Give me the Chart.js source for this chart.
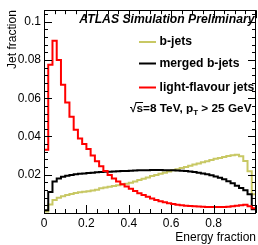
<!DOCTYPE html>
<html>
<head>
<meta charset="utf-8">
<script src="https://cdn.jsdelivr.net/npm/chart.js@4/dist/chart.umd.min.js"></script>
<style>
html,body{margin:0;padding:0;background:#fff;}
canvas{display:block;}
</style>
</head>
<body>
<canvas id="c" width="258" height="245"></canvas>
<script>
// Bin edges (low edges + final upper edge)
const binEdges = [0,0.02,0.04,0.06,0.08,0.10,0.12,0.14,0.16,0.18,0.20,0.22,0.24,0.26,0.28,0.30,0.32,0.34,0.36,0.38,0.40,0.42,0.44,0.46,0.48,0.50,0.52,0.54,0.56,0.58,0.60,0.62,0.64,0.66,0.68,0.70,0.72,0.74,0.76,0.78,0.80,0.82,0.84,0.86,0.88,0.90,0.92,0.94,0.96,0.98,1.00];

const seriesNames = ["b-jets", "merged b-jets", "light-flavour jets"];

const bJets = [0.0008,0.0045,0.0068,0.0080,0.0088,0.0094,0.0099,0.0104,0.0108,0.0111,
  0.0114,0.0118,0.0122,0.0129,0.0133,0.0137,0.0141,0.0145,0.0149,0.0153,
  0.0158,0.0165,0.0172,0.0179,0.0186,0.0193,0.0199,0.0205,0.0211,0.0217,
  0.0223,0.0229,0.0235,0.0241,0.0247,0.0253,0.0259,0.0265,0.0271,0.0277,
  0.0283,0.0288,0.0293,0.0298,0.0302,0.0304,0.0296,0.0272,0.0218,0.0098];

const mergedBJets = [0.0015,0.0110,0.0165,0.0180,0.0190,0.0195,0.0199,0.0202,0.0205,0.0207,
  0.0209,0.0211,0.0213,0.0214,0.0215,0.0216,0.0217,0.0218,0.0219,0.0220,
  0.0221,0.0222,0.0223,0.0224,0.0224,0.0225,0.0225,0.0225,0.0224,0.0224,
  0.0223,0.0222,0.0221,0.0219,0.0217,0.0214,0.0211,0.0207,0.0202,0.0197,
  0.0191,0.0184,0.0176,0.0166,0.0155,0.0143,0.0131,0.0119,0.0098,0.0020];

const lightJets = [0.0330,0.0775,0.0900,0.0800,0.0670,0.0577,0.0503,0.0435,0.0390,0.0360,
  0.0335,0.0300,0.0270,0.0245,0.0220,0.0198,0.0180,0.0165,0.0150,0.0138,
  0.0127,0.0115,0.0103,0.0094,0.0085,0.0076,0.0068,0.0062,0.0056,0.0051,
  0.0047,0.0043,0.0040,0.0038,0.0036,0.0035,0.0034,0.0033,0.0032,0.0031,
  0.0031,0.0031,0.0032,0.0033,0.0035,0.0038,0.0041,0.0043,0.0035,0.0025];

const xTickValues = [0, 0.2, 0.4, 0.6, 0.8];
const yTickValues = [0.02, 0.04, 0.06, 0.08, 0.1];

const seriesColors = ["#c8c864", "#000000", "#ff0000"];

function toSteps(vals){
  const pts = vals.map((v,i)=>({x:binEdges[i], y:v}));
  pts.push({x:binEdges[binEdges.length-1], y:vals[vals.length-1]});
  return pts;
}

const FONT = '"Liberation Sans", Arial, sans-serif';

const framePlugin = {
  id: 'frame',
  afterDraw(chart){
    const {ctx, chartArea:a, scales} = chart;
    const xs = scales.x, ys = scales.y;
    ctx.save();
    ctx.strokeStyle = '#000';
    ctx.lineWidth = 1;
    ctx.strokeRect(Math.round(a.left)+0.5, Math.round(a.top)+0.5, Math.round(a.right-a.left)-1, Math.round(a.bottom-a.top));
    // ticks
    ctx.beginPath();
    const xMinorStep = 0.05, yMinorStep = 0.004;
    for (let i=0;i<=Math.round((xs.max-xs.min)/xMinorStep);i++){
      const v = xs.min + i*xMinorStep;
      const major = Math.abs(v/0.2 - Math.round(v/0.2)) < 1e-6;
      const L = major ? 8 : 4;
      const px = Math.round(xs.getPixelForValue(v))+0.5;
      ctx.moveTo(px, a.bottom); ctx.lineTo(px, a.bottom-L);
      ctx.moveTo(px, a.top); ctx.lineTo(px, a.top+L);
    }
    for (let i=0;i*yMinorStep<=ys.max+1e-9;i++){
      const v = i*yMinorStep;
      const major = Math.abs(v/0.02 - Math.round(v/0.02)) < 1e-6;
      const L = major ? 8 : 4;
      const py = Math.round(ys.getPixelForValue(v))+0.5;
      ctx.moveTo(a.left, py); ctx.lineTo(a.left+L, py);
      ctx.moveTo(a.right, py); ctx.lineTo(a.right-L, py);
    }
    ctx.stroke();

    // header
    ctx.fillStyle = '#000';
    ctx.textBaseline = 'middle';
    ctx.textAlign = 'right';
    ctx.font = 'italic bold 12.2px ' + FONT;
    ctx.fillText('ATLAS Simulation Preliminary', 254.5, 20);
    ctx.textAlign = 'left';

    // legend
    const legY = [42, 63.5, 87.5];
    chart.data.datasets.forEach((ds,i)=>{
      ctx.strokeStyle = ds.borderColor;
      ctx.lineWidth = 2;
      ctx.beginPath();
      ctx.moveTo(139, legY[i]); ctx.lineTo(156, legY[i]);
      ctx.stroke();
      ctx.fillStyle = '#000';
      ctx.font = 'bold 12.2px ' + FONT;
      ctx.fillText(ds.label, 159.5, legY[i]);
    });

    // energy / pT label
    ctx.font = 'bold 11.8px ' + FONT;
    let x = 130, y = 109;
    ctx.fillText('\u221A', x, y);
    x += ctx.measureText('\u221A').width;
    const sW = ctx.measureText('s').width;
    ctx.fillText('s', x, y);
    ctx.lineWidth = 1;
    ctx.strokeStyle = '#000';
    ctx.beginPath(); ctx.moveTo(x-1, y-6.5); ctx.lineTo(x+sW, y-6.5); ctx.stroke();
    x += sW;
    const t1 = '=8 TeV, p';
    ctx.fillText(t1, x, y);
    x += ctx.measureText(t1).width;
    ctx.font = 'bold 8px ' + FONT;
    ctx.fillText('T', x, y+4);
    x += ctx.measureText('T').width;
    ctx.font = 'bold 11.8px ' + FONT;
    ctx.fillText(' > 25 GeV', x, y);
    ctx.restore();
  }
};

new Chart(document.getElementById('c'), {
  type: 'line',
  data: {
    datasets: [
      {label: seriesNames[0], data: toSteps(bJets), borderColor: seriesColors[0], order: 3},
      {label: seriesNames[1], data: toSteps(mergedBJets), borderColor: seriesColors[1], order: 2},
      {label: seriesNames[2], data: toSteps(lightJets), borderColor: seriesColors[2], order: 1}
    ].map(d=>Object.assign(d,{stepped:true, borderWidth:2, pointRadius:0, fill:false, tension:0}))
  },
  options: {
    responsive: false,
    animation: false,
    layout: {padding: {top: 7, right: 2, left: 0, bottom: 0}},
    plugins: {legend: {display: false}, tooltip: {enabled: false}},
    scales: {
      x: {
        type: 'linear', min: 0, max: 1,
        afterFit(s){ s.height = 32; },
        afterBuildTicks(s){ s.ticks = xTickValues.map(v=>({value:v})); },
        ticks: {
          callback: v => String(+v.toFixed(2)),
          font: {family: FONT, size: 12}, color: '#000', padding: 3,
          maxRotation: 0, autoSkip: false
        },
        grid: {display: false, drawTicks: false},
        border: {display: false},
        title: {display: true, text: 'Energy fraction', align: 'end', color: '#000',
          font: {family: FONT, size: 12}, padding: {top: 0, bottom: 0}}
      },
      y: {
        type: 'linear', min: 0, max: 0.106,
        afterFit(s){ s.width = 44; },
        afterBuildTicks(s){ s.ticks = yTickValues.map(v=>({value:v})); },
        ticks: {
          callback: v => String(+v.toFixed(2)),
          font: {family: FONT, size: 12}, color: '#000', padding: 3
        },
        grid: {display: false, drawTicks: false},
        border: {display: false},
        title: {display: true, text: 'Jet fraction', align: 'end', color: '#000',
          font: {family: FONT, size: 12}, padding: {top: 5, bottom: 0}}
      }
    }
  },
  plugins: [framePlugin]
});
</script>
</body>
</html>
